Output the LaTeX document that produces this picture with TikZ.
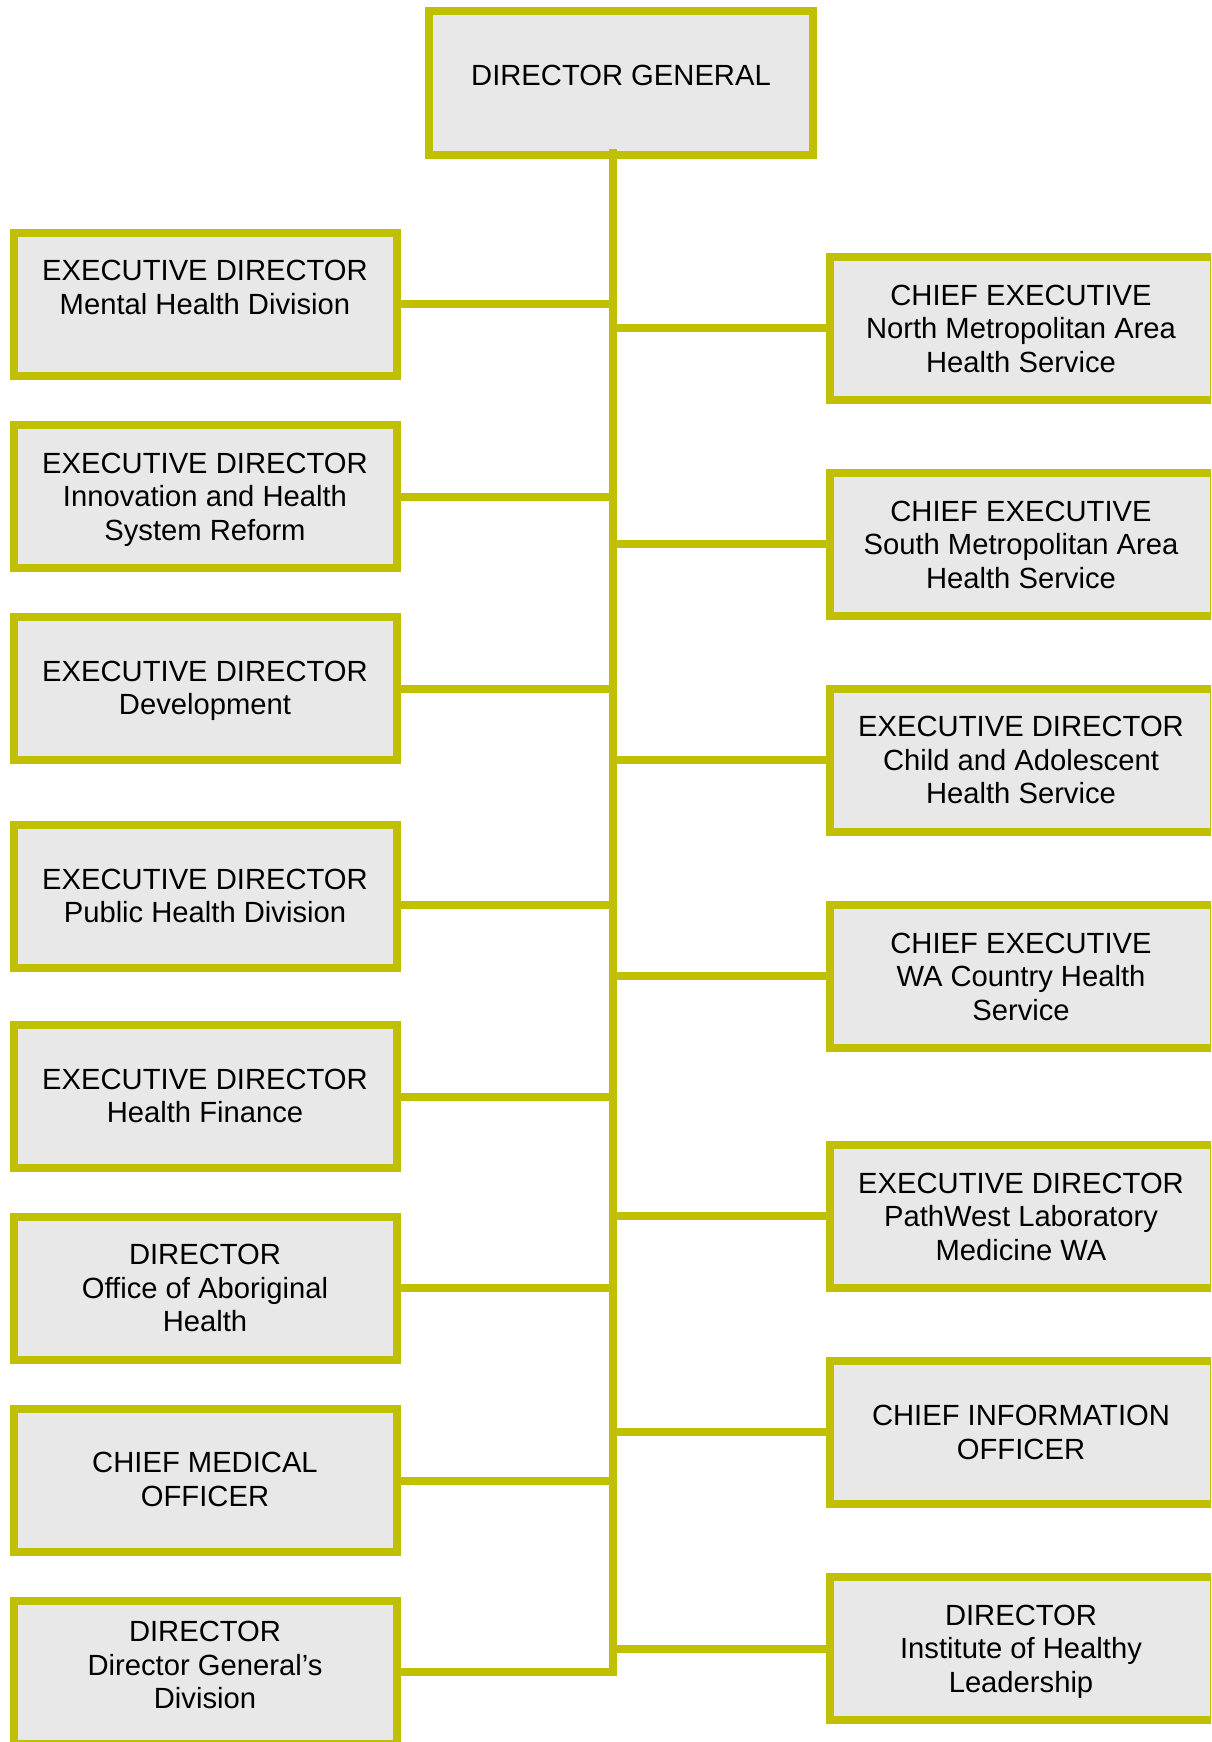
\documentclass[tikz,border=0pt]{standalone}
\usepackage{fontspec}
\setmainfont{Liberation Sans}
\definecolor{borderyel}{RGB}{192,192,0}
\definecolor{boxgray}{RGB}{232,232,232}
\begin{document}
\begin{tikzpicture}[x=1pt,y=-1pt,
  unit/.style={draw=borderyel, fill=boxgray, line width=8pt, rectangle, inner sep=0pt,
               minimum width=383pt, minimum height=143pt},
  runit/.style={unit, minimum width=384.5pt},
  txt/.style={align=center, inner sep=0pt, font=\fontsize{29.2}{33.5}\selectfont},
  link/.style={draw=borderyel, line width=8pt}]
\useasboundingbox (0,0) rectangle (1211,1742);
\clip (0,0) rectangle (1211,1742);

% trunk ends
\coordinate (top) at (613,149);
\coordinate (bot) at (613,1676);

% junctions on trunk
\coordinate (jl1) at (613,304);
\coordinate (jl2) at (613,496.5);
\coordinate (jl3) at (613,688.5);
\coordinate (jl4) at (613,904.5);
\coordinate (jl5) at (613,1096.5);
\coordinate (jl6) at (613,1288);
\coordinate (jl7) at (613,1480.5);
\coordinate (jl8) at (613,1672);
\coordinate (jr1) at (613,328);
\coordinate (jr2) at (613,544);
\coordinate (jr3) at (613,760);
\coordinate (jr4) at (613,976);
\coordinate (jr5) at (613,1216);
\coordinate (jr6) at (613,1432);
\coordinate (jr7) at (613,1649);

% boxes
\node[unit, minimum width=384pt, minimum height=144pt] (dg) at (621,83.3) {};
\node[unit] (l1) at (205.5,304) {};
\node[unit] (l2) at (205.5,496.5) {};
\node[unit] (l3) at (205.5,688.5) {};
\node[unit] (l4) at (205.5,896.5) {};
\node[unit] (l5) at (205.5,1096.5) {};
\node[unit] (l6) at (205.5,1288) {};
\node[unit] (l7) at (205.5,1480) {};
\node[unit] (l8) at (205.5,1672.5) {};
\node[runit] (r1) at (1021.75,328) {};
\node[runit] (r2) at (1021.75,544.5) {};
\node[runit] (r3) at (1021.75,760) {};
\node[runit] (r4) at (1021.75,976.5) {};
\node[runit] (r5) at (1021.75,1216) {};
\node[runit] (r6) at (1021.75,1432.5) {};
\node[runit] (r7) at (1021.75,1648.5) {};

% trunk and connectors
\draw[link] (top) -- (bot);
\foreach \i in {1,...,8} {\draw[link] (jl\i) -- (jl\i -| l\i.east);}
\foreach \i in {1,...,7} {\draw[link] (jr\i) -- (jr\i -| r\i.west);}

% texts
\node[txt] (dgt) at (621,79) {\strut DIRECTOR GENERAL};
\node[txt] (l1t) at (205,291) {\strut EXECUTIVE DIRECTOR\\\strut Mental Health Division};
\node[txt] (l2t) at (205,500) {\strut EXECUTIVE DIRECTOR\\\strut Innovation and Health\\\strut System Reform};
\node[txt] (l3t) at (205,691.5) {\strut EXECUTIVE DIRECTOR\\\strut Development};
\node[txt] (l4t) at (205,899.5) {\strut EXECUTIVE DIRECTOR\\\strut Public Health Division};
\node[txt] (l5t) at (205,1099.5) {\strut EXECUTIVE DIRECTOR\\\strut Health Finance};
\node[txt] (l6t) at (205,1291.7) {\strut DIRECTOR\\\strut Office of Aboriginal\\\strut Health};
\node[txt] (l7t) at (205,1483) {\strut CHIEF MEDICAL\\\strut OFFICER};
\node[txt] (l8t) at (205,1668.7) {\strut DIRECTOR\\\strut Director General’s\\\strut Division};
\node[txt] (r1t) at (1021,332) {\strut CHIEF EXECUTIVE\\\strut North Metropolitan Area\\\strut Health Service};
\node[txt] (r2t) at (1021,548) {\strut CHIEF EXECUTIVE\\\strut South Metropolitan Area\\\strut Health Service};
\node[txt] (r3t) at (1021,763.5) {\strut EXECUTIVE DIRECTOR\\\strut Child and Adolescent\\\strut Health Service};
\node[txt] (r4t) at (1021,980) {\strut CHIEF EXECUTIVE\\\strut WA Country Health\\\strut Service};
\node[txt] (r5t) at (1021,1220) {\strut EXECUTIVE DIRECTOR\\\strut PathWest Laboratory\\\strut Medicine WA};
\node[txt] (r6t) at (1021,1436) {\strut CHIEF INFORMATION\\\strut OFFICER};
\node[txt] (r7t) at (1021,1652) {\strut DIRECTOR\\\strut Institute of Healthy\\\strut Leadership};
\end{tikzpicture}
\end{document}
